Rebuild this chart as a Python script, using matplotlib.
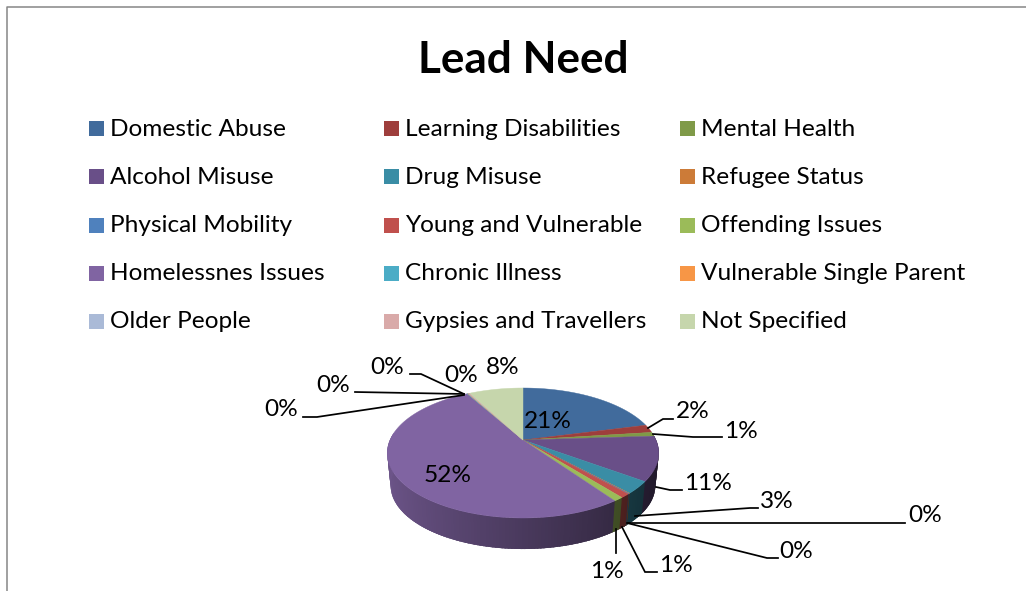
import matplotlib
matplotlib.use("Agg")
import matplotlib.pyplot as plt
import numpy as np
from matplotlib.patches import Rectangle

plt.rcParams['font.family'] = ['Lato', 'DejaVu Sans']

title = "Lead Need"
categories = ["Domestic Abuse", "Learning Disabilities", "Mental Health",
              "Alcohol Misuse", "Drug Misuse", "Refugee Status",
              "Physical Mobility", "Young and Vulnerable", "Offending Issues",
              "Homelessnes Issues", "Chronic Illness", "Vulnerable Single Parent",
              "Older People", "Gypsies and Travellers", "Not Specified"]
values = [21, 2, 1, 11, 3, 0.1, 0.1, 1, 1, 51.6, 0.1, 0.1, 0.1, 0.1, 7.8]
colors = ["#416B9C", "#9E3E3C", "#7F9A48", "#694F88", "#3A8DA5", "#CC7B38",
          "#4F81BD", "#C0504D", "#9BBB59", "#8064A2", "#4BACC6", "#F79646",
          "#AABAD7", "#D9AAA9", "#C6D6AC"]

# pie projection, in pixels
cx, cy = 523, 440
rx, ry, persp = 133, 62.4, 0.2
depth, shrink = 33, 0.975

# label centre and leader line for each slice, same order as values
label_pos = [(548, 420), (693, 411), (741, 431), (708, 483), (777, 501),
             (925, 515), (796, 551), (676, 565), (607, 570), (448, 475),
             (281, 409), (333, 385), (387, 367), (461, 375), (503, 367)]
leaders = [None,
           [(648, 428), (663, 419), (673, 419)],
           [(653, 434), (693, 437), (722, 437)],
           [(656, 487), (670, 490), (682, 490)],
           [(635, 516), (750, 508), (758, 508)],
           [(628, 523), (905, 523)],
           [(627, 523), (767, 558), (778, 558)],
           [(622, 527), (645, 572), (657, 572)],
           [(616, 529), (616, 553)],
           None,
           [(303, 417), (317, 417), (464, 395)],
           [(355, 392), (464, 394)],
           [(410, 374), (421, 374), (464, 394)],
           None,
           None]


def project(angle):
    # angle clockwise from the top of the pie
    u, v = np.sin(angle), np.cos(angle)
    w = 1 + persp * v
    return cx + rx * u / w, cy - ry * v / w


def project_low(angle):
    x, y = project(angle)
    return cx + (x - cx) * shrink, cy + (y - cy) * shrink + depth


def darken(color, f):
    return tuple(c * f for c in matplotlib.colors.to_rgb(color))


fig = plt.figure(figsize=(10.26, 5.91), dpi=100)
ax = fig.add_axes([0, 0, 1, 1])
ax.set_xlim(0, 1026)
ax.set_ylim(591, 0)
ax.axis('off')

# chart border, only top and left are inside the crop
ax.plot([6.5, 6.5, 1026], [591, 6.5, 6.5], color="#868686", lw=1.1, zorder=1)

ax.text(523, 60, title, fontsize=31.8, fontweight='bold', ha='center', va='center', color='black')

# legend, filled row by row
col_x = [89, 384, 680]
row_y = [128, 176, 225, 273, 321]
for i, (name, col) in enumerate(zip(categories, colors)):
    x = col_x[i % 3]
    y = row_y[i // 3]
    ax.add_patch(Rectangle((x, y - 7.5), 15, 15, facecolor=col, edgecolor='none'))
    ax.text(x + 21, y + 1, name, fontsize=17.6, ha='left', va='center', color='black')

total = sum(values)
edges = np.cumsum([0] + values) / total * 2 * np.pi

# side wall in small strips, each overlaps the next so no seams show
for i, col in enumerate(colors):
    a0, a1 = edges[i], edges[i + 1]
    n = max(2, int((a1 - a0) / 0.02))
    steps = np.linspace(a0, a1, n + 1)
    for s0, s1 in zip(steps[:-1], steps[1:]):
        mid = (s0 + s1) / 2
        if np.cos(mid) > 0.1:
            continue
        shade = 0.575 - 0.275 * np.sin(mid)
        over = s1 + 0.03
        xa, ya = project(s0)
        xb, yb = project(over)
        xc, yc = project_low(over)
        xd, yd = project_low(s0)
        ax.fill([xa, xb, xc, xd], [ya, yb, yc, yd], facecolor=darken(col, shade),
                edgecolor='none', zorder=2)

# top face
for i, col in enumerate(colors):
    a = np.linspace(edges[i], edges[i + 1], max(2, int((edges[i + 1] - edges[i]) / 0.01)))
    xs, ys = project(a)
    ax.fill(np.r_[cx, xs], np.r_[cy, ys], facecolor=col, edgecolor=col, lw=0.3, zorder=3)

# leaders and percent labels
for val, pos, line in zip(values, label_pos, leaders):
    if line is not None:
        lx, ly = zip(*line)
        ax.plot(lx, ly, color='black', lw=1.25, zorder=4, solid_joinstyle='miter')
    ax.text(pos[0], pos[1] + 1, f"{round(val / total * 100)}%", fontsize=17.6,
            ha='center', va='center', color='black', zorder=5)

fig.savefig("out.png", dpi=100)
plt.close(fig)
